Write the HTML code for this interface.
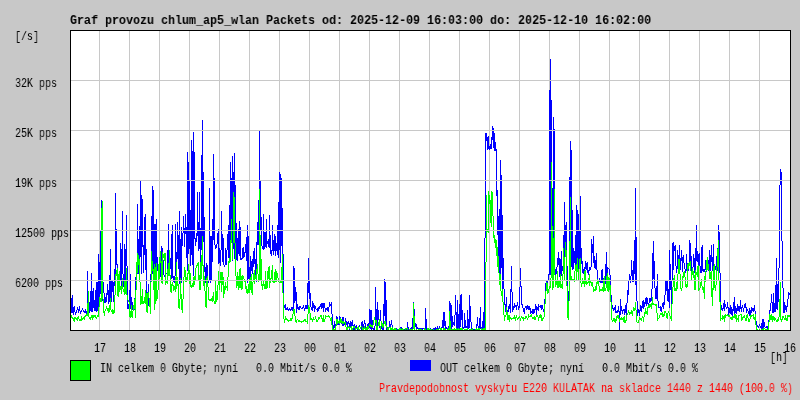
<!DOCTYPE html>
<html><head><meta charset="utf-8">
<style>
html,body{margin:0;padding:0;}
body{width:800px;height:400px;background:#c8c8c8;position:relative;overflow:hidden;font-family:"Liberation Mono",monospace;color:#000;}
.t{position:absolute;white-space:pre;font-size:13px;line-height:14px;transform:scaleX(0.769);transform-origin:0 0;will-change:transform;}
.title{position:absolute;left:70px;top:14px;font-size:13px;font-weight:bold;line-height:14px;white-space:pre;transform:scaleX(0.8974);transform-origin:0 0;will-change:transform;}
svg{position:absolute;left:0;top:0;}
</style></head><body>
<svg width="800" height="400" viewBox="0 0 800 400" shape-rendering="crispEdges">
<rect x="70" y="30" width="721" height="301" fill="#fff"/>
<g stroke="#c8c8c8" stroke-width="1">
<line x1="99.5" y1="31" x2="99.5" y2="330"/>
<line x1="129.5" y1="31" x2="129.5" y2="330"/>
<line x1="159.5" y1="31" x2="159.5" y2="330"/>
<line x1="189.5" y1="31" x2="189.5" y2="330"/>
<line x1="219.5" y1="31" x2="219.5" y2="330"/>
<line x1="249.5" y1="31" x2="249.5" y2="330"/>
<line x1="279.5" y1="31" x2="279.5" y2="330"/>
<line x1="309.5" y1="31" x2="309.5" y2="330"/>
<line x1="339.5" y1="31" x2="339.5" y2="330"/>
<line x1="369.5" y1="31" x2="369.5" y2="330"/>
<line x1="399.5" y1="31" x2="399.5" y2="330"/>
<line x1="429.5" y1="31" x2="429.5" y2="330"/>
<line x1="459.5" y1="31" x2="459.5" y2="330"/>
<line x1="489.5" y1="31" x2="489.5" y2="330"/>
<line x1="519.5" y1="31" x2="519.5" y2="330"/>
<line x1="549.5" y1="31" x2="549.5" y2="330"/>
<line x1="579.5" y1="31" x2="579.5" y2="330"/>
<line x1="609.5" y1="31" x2="609.5" y2="330"/>
<line x1="639.5" y1="31" x2="639.5" y2="330"/>
<line x1="669.5" y1="31" x2="669.5" y2="330"/>
<line x1="699.5" y1="31" x2="699.5" y2="330"/>
<line x1="729.5" y1="31" x2="729.5" y2="330"/>
<line x1="759.5" y1="31" x2="759.5" y2="330"/>
</g>
<path fill="#0000ff" d="M71 298h1v15h-1zM72 295h1v18h-1zM73 307h1v8h-1zM74 306h1v6h-1zM75 312h1v3h-1zM76 310h1v3h-1zM77 307h1v3h-1zM78 309h1v4h-1zM79 306h1v5h-1zM80 311h1v3h-1zM81 310h1v2h-1zM82 308h1v2h-1zM83 310h1v2h-1zM84 311h1v2h-1zM85 309h1v4h-1zM86 311h1v3h-1zM87 271h1v41h-1zM88 291h1v21h-1zM89 302h1v11h-1zM90 291h1v20h-1zM91 273h1v39h-1zM92 291h1v21h-1zM93 288h1v20h-1zM94 300h1v11h-1zM95 290h1v21h-1zM96 282h1v30h-1zM97 282h1v29h-1zM98 254h1v54h-1zM99 262h1v38h-1zM100 230h1v64h-1zM101 200h1v93h-1zM102 226h1v75h-1zM103 282h1v11h-1zM104 293h1v10h-1zM105 297h1v6h-1zM106 293h1v9h-1zM107 284h1v11h-1zM108 290h1v14h-1zM109 275h1v27h-1zM110 249h1v52h-1zM111 281h1v21h-1zM112 281h1v11h-1zM113 282h1v20h-1zM114 269h1v17h-1zM115 193h1v87h-1zM116 229h1v36h-1zM117 264h1v16h-1zM118 278h1v8h-1zM119 277h1v10h-1zM120 243h1v37h-1zM121 249h1v42h-1zM122 211h1v63h-1zM123 274h1v13h-1zM124 244h1v44h-1zM125 249h1v34h-1zM126 215h1v51h-1zM127 266h1v43h-1zM128 304h1v5h-1zM129 290h1v17h-1zM130 274h1v35h-1zM131 297h1v13h-1zM132 302h1v8h-1zM133 306h1v4h-1zM134 298h1v12h-1zM135 277h1v21h-1zM136 272h1v5h-1zM137 204h1v70h-1zM138 239h1v35h-1zM139 226h1v45h-1zM140 181h1v76h-1zM141 195h1v79h-1zM142 199h1v48h-1zM143 245h1v28h-1zM144 217h1v38h-1zM145 214h1v56h-1zM146 249h1v53h-1zM147 292h1v9h-1zM148 284h1v22h-1zM149 303h1v3h-1zM150 274h1v31h-1zM151 216h1v58h-1zM152 186h1v88h-1zM153 190h1v82h-1zM154 224h1v40h-1zM155 224h1v49h-1zM156 219h1v45h-1zM157 257h1v14h-1zM158 265h1v12h-1zM159 266h1v8h-1zM160 257h1v20h-1zM161 246h1v29h-1zM162 248h1v27h-1zM163 260h1v15h-1zM164 275h1v2h-1zM165 271h1v5h-1zM166 273h1v1h-1zM167 250h1v26h-1zM168 224h1v45h-1zM169 266h1v3h-1zM170 258h1v11h-1zM171 234h1v45h-1zM172 225h1v53h-1zM173 276h1v6h-1zM174 276h1v7h-1zM175 224h1v52h-1zM176 252h1v32h-1zM177 222h1v37h-1zM178 235h1v34h-1zM179 211h1v73h-1zM180 239h1v43h-1zM181 227h1v56h-1zM182 233h1v13h-1zM183 216h1v17h-1zM184 228h1v19h-1zM185 214h1v20h-1zM186 227h1v31h-1zM187 152h1v119h-1zM188 162h1v92h-1zM189 180h1v69h-1zM190 210h1v56h-1zM191 140h1v115h-1zM192 151h1v114h-1zM193 132h1v144h-1zM194 152h1v87h-1zM195 238h1v8h-1zM196 233h1v9h-1zM197 192h1v44h-1zM198 222h1v29h-1zM199 192h1v57h-1zM200 228h1v36h-1zM201 155h1v95h-1zM202 120h1v144h-1zM203 172h1v70h-1zM204 217h1v55h-1zM205 267h1v16h-1zM206 263h1v18h-1zM207 265h1v16h-1zM208 280h1v3h-1zM209 188h1v92h-1zM210 236h1v47h-1zM211 236h1v44h-1zM212 219h1v43h-1zM213 154h1v86h-1zM214 178h1v67h-1zM215 245h1v4h-1zM216 244h1v4h-1zM217 233h1v11h-1zM218 229h1v35h-1zM219 248h1v15h-1zM220 250h1v16h-1zM221 211h1v39h-1zM222 234h1v28h-1zM223 238h1v27h-1zM224 265h1v2h-1zM225 248h1v17h-1zM226 250h1v15h-1zM227 234h1v16h-1zM228 225h1v33h-1zM229 205h1v55h-1zM230 162h1v96h-1zM231 178h1v46h-1zM232 156h1v105h-1zM233 172h1v77h-1zM234 153h1v106h-1zM235 185h1v78h-1zM236 223h1v37h-1zM237 238h1v23h-1zM238 229h1v25h-1zM239 221h1v35h-1zM240 227h1v33h-1zM241 258h1v2h-1zM242 248h1v11h-1zM243 247h1v11h-1zM244 252h1v5h-1zM245 244h1v9h-1zM246 237h1v24h-1zM247 225h1v58h-1zM248 236h1v43h-1zM249 267h1v12h-1zM250 256h1v25h-1zM251 261h1v10h-1zM252 259h1v15h-1zM253 251h1v16h-1zM254 248h1v16h-1zM255 259h1v19h-1zM256 242h1v40h-1zM257 222h1v23h-1zM258 200h1v45h-1zM259 131h1v112h-1zM260 181h1v50h-1zM261 217h1v29h-1zM262 246h1v3h-1zM263 214h1v36h-1zM264 232h1v17h-1zM265 232h1v15h-1zM266 219h1v29h-1zM267 241h1v3h-1zM268 239h1v8h-1zM269 215h1v33h-1zM270 235h1v19h-1zM271 250h1v6h-1zM272 225h1v26h-1zM273 240h1v15h-1zM274 234h1v17h-1zM275 236h1v20h-1zM276 243h1v8h-1zM277 225h1v30h-1zM278 202h1v56h-1zM279 172h1v78h-1zM280 174h1v89h-1zM281 178h1v68h-1zM282 208h1v46h-1zM283 254h1v51h-1zM284 305h1v3h-1zM285 304h1v6h-1zM286 308h1v2h-1zM287 307h1v3h-1zM288 309h1v2h-1zM289 308h1v2h-1zM290 309h1v2h-1zM291 307h1v3h-1zM292 307h1v4h-1zM293 266h1v47h-1zM294 268h1v35h-1zM295 287h1v14h-1zM296 292h1v21h-1zM297 304h1v5h-1zM298 307h1v3h-1zM299 306h1v4h-1zM300 306h1v2h-1zM301 308h1v1h-1zM302 307h1v2h-1zM303 305h1v3h-1zM304 308h1v3h-1zM305 305h1v4h-1zM306 305h1v4h-1zM307 283h1v26h-1zM308 258h1v35h-1zM309 280h1v19h-1zM310 293h1v14h-1zM311 307h1v3h-1zM312 301h1v10h-1zM313 303h1v5h-1zM314 305h1v7h-1zM315 306h1v3h-1zM316 309h1v1h-1zM317 308h1v4h-1zM318 307h1v4h-1zM319 306h1v3h-1zM320 304h1v3h-1zM321 303h1v6h-1zM322 303h1v5h-1zM323 303h1v9h-1zM324 303h1v5h-1zM325 308h1v4h-1zM326 308h1v2h-1zM327 307h1v4h-1zM328 307h1v5h-1zM329 302h1v5h-1zM330 304h1v2h-1zM331 302h1v12h-1zM332 314h1v15h-1zM333 325h1v4h-1zM334 321h1v7h-1zM335 324h1v5h-1zM336 316h1v8h-1zM337 317h1v8h-1zM338 321h1v4h-1zM339 316h1v9h-1zM340 317h1v4h-1zM341 319h1v5h-1zM342 317h1v9h-1zM343 317h1v9h-1zM344 323h1v2h-1zM345 318h1v7h-1zM346 321h1v4h-1zM347 322h1v5h-1zM348 321h1v3h-1zM349 323h1v7h-1zM350 321h1v7h-1zM351 322h1v6h-1zM352 320h1v6h-1zM353 325h1v6h-1zM354 324h1v6h-1zM355 326h1v2h-1zM356 325h1v3h-1zM357 327h1v3h-1zM358 327h1v3h-1zM359 325h1v2h-1zM360 327h1v2h-1zM361 322h1v9h-1zM362 321h1v8h-1zM363 324h1v5h-1zM364 320h1v4h-1zM365 323h1v6h-1zM366 327h1v2h-1zM367 324h1v3h-1zM368 323h1v5h-1zM369 309h1v19h-1zM370 310h1v19h-1zM371 310h1v20h-1zM372 320h1v9h-1zM373 328h1v2h-1zM374 326h1v4h-1zM375 287h1v39h-1zM376 309h1v21h-1zM377 302h1v28h-1zM378 310h1v10h-1zM379 319h1v9h-1zM380 310h1v11h-1zM381 321h1v8h-1zM382 328h1v2h-1zM383 304h1v26h-1zM384 279h1v37h-1zM385 282h1v41h-1zM386 300h1v31h-1zM387 327h1v3h-1zM388 327h1v2h-1zM389 321h1v6h-1zM390 324h1v7h-1zM391 320h1v5h-1zM392 325h1v5h-1zM393 329h1v2h-1zM394 329h1v2h-1zM395 328h1v3h-1zM396 328h1v3h-1zM397 329h1v2h-1zM398 329h1v2h-1zM399 328h1v3h-1zM400 327h1v4h-1zM401 327h1v2h-1zM402 329h1v2h-1zM403 329h1v1h-1zM404 329h1v2h-1zM405 328h1v2h-1zM406 328h1v3h-1zM407 322h1v6h-1zM408 327h1v4h-1zM409 329h1v1h-1zM410 328h1v2h-1zM411 327h1v4h-1zM412 318h1v11h-1zM413 302h1v16h-1zM414 309h1v14h-1zM415 323h1v4h-1zM416 324h1v5h-1zM417 327h1v2h-1zM418 328h1v2h-1zM419 328h1v2h-1zM420 328h1v3h-1zM421 328h1v2h-1zM422 328h1v2h-1zM423 328h1v1h-1zM424 328h1v2h-1zM425 308h1v22h-1zM426 319h1v12h-1zM427 330h1v1h-1zM428 328h1v3h-1zM429 329h1v1h-1zM430 328h1v3h-1zM431 329h1v1h-1zM432 329h1v2h-1zM433 328h1v1h-1zM434 328h1v2h-1zM435 327h1v3h-1zM436 328h1v3h-1zM437 326h1v5h-1zM438 328h1v2h-1zM439 326h1v3h-1zM440 328h1v3h-1zM441 327h1v4h-1zM442 320h1v8h-1zM443 312h1v16h-1zM444 312h1v14h-1zM445 321h1v8h-1zM446 327h1v2h-1zM447 328h1v1h-1zM448 326h1v3h-1zM449 301h1v27h-1zM450 303h1v25h-1zM451 305h1v24h-1zM452 316h1v11h-1zM453 322h1v3h-1zM454 315h1v11h-1zM455 295h1v20h-1zM456 312h1v17h-1zM457 300h1v29h-1zM458 314h1v15h-1zM459 304h1v25h-1zM460 295h1v32h-1zM461 294h1v26h-1zM462 310h1v18h-1zM463 327h1v2h-1zM464 313h1v15h-1zM465 320h1v8h-1zM466 326h1v2h-1zM467 310h1v18h-1zM468 319h1v10h-1zM469 295h1v33h-1zM470 306h1v16h-1zM471 322h1v7h-1zM472 328h1v1h-1zM473 329h1v2h-1zM474 329h1v1h-1zM475 329h1v2h-1zM476 324h1v7h-1zM477 317h1v9h-1zM478 326h1v3h-1zM479 318h1v11h-1zM480 307h1v22h-1zM481 327h1v4h-1zM482 321h1v10h-1zM483 312h1v18h-1zM484 238h1v91h-1zM485 133h1v105h-1zM486 133h1v8h-1zM487 137h1v13h-1zM488 136h1v13h-1zM489 146h1v4h-1zM490 144h1v5h-1zM491 137h1v12h-1zM492 126h1v14h-1zM493 128h1v20h-1zM494 133h1v18h-1zM495 142h1v9h-1zM496 149h1v47h-1zM497 190h1v45h-1zM498 216h1v44h-1zM499 209h1v64h-1zM500 160h1v122h-1zM501 175h1v93h-1zM502 215h1v77h-1zM503 258h1v31h-1zM504 289h1v16h-1zM505 304h1v8h-1zM506 297h1v15h-1zM507 310h1v2h-1zM508 306h1v6h-1zM509 304h1v5h-1zM510 289h1v24h-1zM511 266h1v26h-1zM512 292h1v20h-1zM513 306h1v4h-1zM514 303h1v5h-1zM515 305h1v2h-1zM516 305h1v5h-1zM517 302h1v4h-1zM518 306h1v4h-1zM519 287h1v21h-1zM520 268h1v19h-1zM521 286h1v19h-1zM522 304h1v4h-1zM523 308h1v4h-1zM524 308h1v6h-1zM525 306h1v2h-1zM526 306h1v4h-1zM527 305h1v4h-1zM528 306h1v4h-1zM529 306h1v4h-1zM530 308h1v6h-1zM531 311h1v2h-1zM532 309h1v5h-1zM533 309h1v5h-1zM534 309h1v4h-1zM535 304h1v6h-1zM536 306h1v9h-1zM537 307h1v3h-1zM538 304h1v7h-1zM539 306h1v1h-1zM540 305h1v3h-1zM541 305h1v5h-1zM542 305h1v4h-1zM543 309h1v3h-1zM544 299h1v12h-1zM545 283h1v16h-1zM546 280h1v3h-1zM547 281h1v4h-1zM548 274h1v7h-1zM549 90h1v185h-1zM550 59h1v216h-1zM551 100h1v176h-1zM552 188h1v87h-1zM553 117h1v146h-1zM554 129h1v142h-1zM555 269h1v6h-1zM556 267h1v7h-1zM557 258h1v9h-1zM558 252h1v13h-1zM559 258h1v19h-1zM560 259h1v18h-1zM561 251h1v25h-1zM562 266h1v5h-1zM563 235h1v34h-1zM564 202h1v63h-1zM565 225h1v32h-1zM566 222h1v44h-1zM567 266h1v44h-1zM568 291h1v22h-1zM569 177h1v114h-1zM570 141h1v126h-1zM571 150h1v117h-1zM572 210h1v60h-1zM573 248h1v21h-1zM574 251h1v12h-1zM575 235h1v31h-1zM576 205h1v60h-1zM577 210h1v50h-1zM578 214h1v55h-1zM579 231h1v35h-1zM580 196h1v71h-1zM581 248h1v16h-1zM582 261h1v12h-1zM583 269h1v5h-1zM584 267h1v6h-1zM585 261h1v8h-1zM586 263h1v7h-1zM587 262h1v11h-1zM588 270h1v5h-1zM589 267h1v4h-1zM590 267h1v3h-1zM591 239h1v28h-1zM592 244h1v9h-1zM593 236h1v27h-1zM594 256h1v12h-1zM595 260h1v9h-1zM596 253h1v17h-1zM597 270h1v11h-1zM598 281h1v1h-1zM599 278h1v4h-1zM600 281h1v2h-1zM601 270h1v13h-1zM602 269h1v14h-1zM603 278h1v4h-1zM604 277h1v5h-1zM605 264h1v20h-1zM606 252h1v32h-1zM607 267h1v17h-1zM608 268h1v1h-1zM609 269h1v6h-1zM610 275h1v20h-1zM611 295h1v13h-1zM612 305h1v4h-1zM613 308h1v3h-1zM614 307h1v3h-1zM615 305h1v8h-1zM616 311h1v2h-1zM617 310h1v3h-1zM618 306h1v6h-1zM619 311h1v20h-1zM620 299h1v16h-1zM621 306h1v5h-1zM622 310h1v4h-1zM623 309h1v2h-1zM624 309h1v6h-1zM625 305h1v8h-1zM626 303h1v13h-1zM627 290h1v13h-1zM628 280h1v15h-1zM629 274h1v6h-1zM630 276h1v7h-1zM631 260h1v16h-1zM632 270h1v12h-1zM633 261h1v21h-1zM634 240h1v34h-1zM635 188h1v97h-1zM636 237h1v64h-1zM637 301h1v15h-1zM638 309h1v4h-1zM639 310h1v6h-1zM640 305h1v6h-1zM641 306h1v6h-1zM642 301h1v7h-1zM643 300h1v9h-1zM644 302h1v5h-1zM645 298h1v6h-1zM646 297h1v9h-1zM647 298h1v6h-1zM648 303h1v3h-1zM649 298h1v5h-1zM650 298h1v4h-1zM651 289h1v12h-1zM652 253h1v36h-1zM653 241h1v38h-1zM654 261h1v27h-1zM655 288h1v11h-1zM656 286h1v13h-1zM657 274h1v27h-1zM658 301h1v7h-1zM659 307h1v1h-1zM660 306h1v5h-1zM661 307h1v5h-1zM662 303h1v4h-1zM663 302h1v7h-1zM664 295h1v10h-1zM665 280h1v15h-1zM666 281h1v10h-1zM667 280h1v21h-1zM668 289h1v13h-1zM669 250h1v58h-1zM670 264h1v26h-1zM671 281h1v26h-1zM672 243h1v38h-1zM673 242h1v28h-1zM674 246h1v5h-1zM675 245h1v21h-1zM676 266h1v7h-1zM677 250h1v19h-1zM678 255h1v17h-1zM679 245h1v25h-1zM680 258h1v12h-1zM681 250h1v11h-1zM682 257h1v15h-1zM683 255h1v8h-1zM684 263h1v6h-1zM685 269h1v4h-1zM686 254h1v17h-1zM687 263h1v9h-1zM688 264h1v7h-1zM689 240h1v24h-1zM690 243h1v24h-1zM691 256h1v16h-1zM692 267h1v4h-1zM693 254h1v13h-1zM694 258h1v15h-1zM695 248h1v24h-1zM696 225h1v36h-1zM697 251h1v11h-1zM698 254h1v17h-1zM699 253h1v13h-1zM700 266h1v7h-1zM701 247h1v26h-1zM702 245h1v26h-1zM703 269h1v3h-1zM704 269h1v3h-1zM705 260h1v10h-1zM706 266h1v6h-1zM707 261h1v9h-1zM708 260h1v11h-1zM709 250h1v20h-1zM710 255h1v16h-1zM711 245h1v17h-1zM712 257h1v14h-1zM713 244h1v27h-1zM714 265h1v6h-1zM715 266h1v4h-1zM716 256h1v11h-1zM717 248h1v23h-1zM718 225h1v39h-1zM719 232h1v41h-1zM720 273h1v41h-1zM721 305h1v5h-1zM722 308h1v3h-1zM723 303h1v6h-1zM724 300h1v11h-1zM725 304h1v3h-1zM726 307h1v2h-1zM727 302h1v6h-1zM728 307h1v9h-1zM729 308h1v5h-1zM730 305h1v9h-1zM731 307h1v8h-1zM732 309h1v7h-1zM733 302h1v9h-1zM734 297h1v17h-1zM735 306h1v7h-1zM736 308h1v6h-1zM737 304h1v7h-1zM738 306h1v5h-1zM739 306h1v6h-1zM740 300h1v9h-1zM741 307h1v5h-1zM742 305h1v3h-1zM743 308h1v4h-1zM744 304h1v4h-1zM745 303h1v5h-1zM746 307h1v6h-1zM747 309h1v2h-1zM748 311h1v3h-1zM749 308h1v8h-1zM750 310h1v5h-1zM751 307h1v6h-1zM752 308h1v3h-1zM753 308h1v4h-1zM754 305h1v6h-1zM755 311h1v10h-1zM756 321h1v9h-1zM757 325h1v2h-1zM758 326h1v2h-1zM759 324h1v2h-1zM760 326h1v2h-1zM761 323h1v6h-1zM762 319h1v12h-1zM763 319h1v10h-1zM764 322h1v5h-1zM765 327h1v1h-1zM766 326h1v2h-1zM767 326h1v3h-1zM768 320h1v10h-1zM769 310h1v10h-1zM770 303h1v8h-1zM771 294h1v9h-1zM772 302h1v11h-1zM773 293h1v20h-1zM774 303h1v9h-1zM775 285h1v27h-1zM776 258h1v51h-1zM777 284h1v26h-1zM778 268h1v34h-1zM779 185h1v83h-1zM780 169h1v16h-1zM781 172h1v69h-1zM782 241h1v47h-1zM783 288h1v25h-1zM784 302h1v11h-1zM785 305h1v5h-1zM786 306h1v6h-1zM787 299h1v8h-1zM788 292h1v7h-1zM789 293h1v2h-1z"/>
<path fill="#00ff00" d="M71 315h1v3h-1zM72 317h1v2h-1zM73 318h1v3h-1zM74 317h1v5h-1zM75 317h1v2h-1zM76 318h1v2h-1zM77 317h1v4h-1zM78 316h1v3h-1zM79 319h1v2h-1zM80 319h1v2h-1zM81 316h1v5h-1zM82 318h1v2h-1zM83 317h1v2h-1zM84 316h1v4h-1zM85 315h1v2h-1zM86 314h1v2h-1zM87 303h1v13h-1zM88 291h1v26h-1zM89 317h1v2h-1zM90 317h1v3h-1zM91 315h1v3h-1zM92 315h1v5h-1zM93 315h1v3h-1zM94 315h1v2h-1zM95 315h1v3h-1zM96 317h1v2h-1zM97 315h1v2h-1zM98 307h1v10h-1zM99 297h1v10h-1zM100 298h1v4h-1zM101 208h1v94h-1zM102 201h1v98h-1zM103 299h1v14h-1zM104 311h1v5h-1zM105 309h1v2h-1zM106 306h1v3h-1zM107 308h1v3h-1zM108 308h1v5h-1zM109 305h1v7h-1zM110 298h1v12h-1zM111 310h1v2h-1zM112 309h1v5h-1zM113 310h1v4h-1zM114 295h1v18h-1zM115 274h1v21h-1zM116 270h1v6h-1zM117 268h1v28h-1zM118 274h1v23h-1zM119 271h1v21h-1zM120 286h1v4h-1zM121 286h1v8h-1zM122 278h1v11h-1zM123 289h1v3h-1zM124 280h1v15h-1zM125 281h1v13h-1zM126 268h1v27h-1zM127 295h1v5h-1zM128 300h1v2h-1zM129 302h1v15h-1zM130 311h1v7h-1zM131 305h1v12h-1zM132 311h1v7h-1zM133 305h1v6h-1zM134 299h1v10h-1zM135 290h1v28h-1zM136 262h1v28h-1zM137 253h1v20h-1zM138 255h1v10h-1zM139 259h1v23h-1zM140 282h1v23h-1zM141 296h1v8h-1zM142 289h1v15h-1zM143 301h1v3h-1zM144 297h1v6h-1zM145 290h1v14h-1zM146 293h1v19h-1zM147 293h1v20h-1zM148 292h1v6h-1zM149 298h1v9h-1zM150 282h1v32h-1zM151 251h1v31h-1zM152 261h1v10h-1zM153 269h1v21h-1zM154 264h1v46h-1zM155 267h1v37h-1zM156 263h1v38h-1zM157 290h1v9h-1zM158 264h1v26h-1zM159 257h1v22h-1zM160 251h1v12h-1zM161 261h1v22h-1zM162 252h1v32h-1zM163 254h1v4h-1zM164 253h1v8h-1zM165 253h1v32h-1zM166 281h1v2h-1zM167 269h1v15h-1zM168 263h1v13h-1zM169 250h1v26h-1zM170 275h1v17h-1zM171 284h1v9h-1zM172 282h1v4h-1zM173 285h1v6h-1zM174 286h1v4h-1zM175 277h1v15h-1zM176 262h1v27h-1zM177 277h1v9h-1zM178 284h1v24h-1zM179 299h1v10h-1zM180 278h1v21h-1zM181 294h1v16h-1zM182 299h1v14h-1zM183 277h1v22h-1zM184 267h1v10h-1zM185 270h1v12h-1zM186 277h1v5h-1zM187 273h1v8h-1zM188 264h1v10h-1zM189 270h1v14h-1zM190 273h1v14h-1zM191 285h1v3h-1zM192 283h1v4h-1zM193 277h1v10h-1zM194 276h1v9h-1zM195 268h1v12h-1zM196 265h1v3h-1zM197 263h1v3h-1zM198 262h1v19h-1zM199 275h1v15h-1zM200 262h1v28h-1zM201 255h1v24h-1zM202 236h1v30h-1zM203 265h1v21h-1zM204 276h1v15h-1zM205 291h1v16h-1zM206 278h1v30h-1zM207 276h1v11h-1zM208 287h1v13h-1zM209 299h1v2h-1zM210 299h1v2h-1zM211 298h1v3h-1zM212 296h1v6h-1zM213 292h1v9h-1zM214 301h1v3h-1zM215 281h1v23h-1zM216 291h1v11h-1zM217 285h1v15h-1zM218 271h1v14h-1zM219 281h1v9h-1zM220 272h1v11h-1zM221 272h1v20h-1zM222 272h1v13h-1zM223 277h1v21h-1zM224 286h1v8h-1zM225 282h1v8h-1zM226 286h1v2h-1zM227 277h1v14h-1zM228 261h1v16h-1zM229 258h1v5h-1zM230 240h1v22h-1zM231 219h1v24h-1zM232 243h1v17h-1zM233 192h1v51h-1zM234 197h1v46h-1zM235 243h1v33h-1zM236 276h1v12h-1zM237 272h1v14h-1zM238 276h1v14h-1zM239 269h1v19h-1zM240 268h1v20h-1zM241 276h1v14h-1zM242 275h1v14h-1zM243 276h1v3h-1zM244 279h1v3h-1zM245 280h1v9h-1zM246 286h1v7h-1zM247 289h1v5h-1zM248 284h1v9h-1zM249 279h1v14h-1zM250 277h1v13h-1zM251 274h1v19h-1zM252 282h1v13h-1zM253 273h1v9h-1zM254 270h1v14h-1zM255 275h1v4h-1zM256 269h1v11h-1zM257 264h1v10h-1zM258 274h1v8h-1zM259 189h1v92h-1zM260 235h1v46h-1zM261 259h1v27h-1zM262 284h1v6h-1zM263 280h1v6h-1zM264 284h1v5h-1zM265 271h1v18h-1zM266 280h1v9h-1zM267 271h1v17h-1zM268 267h1v12h-1zM269 266h1v22h-1zM270 278h1v5h-1zM271 270h1v9h-1zM272 265h1v17h-1zM273 280h1v3h-1zM274 272h1v11h-1zM275 269h1v13h-1zM276 271h1v11h-1zM277 273h1v5h-1zM278 278h1v4h-1zM279 282h1v1h-1zM280 280h1v3h-1zM281 267h1v16h-1zM282 254h1v39h-1zM283 293h1v26h-1zM284 319h1v4h-1zM285 316h1v4h-1zM286 318h1v2h-1zM287 319h1v2h-1zM288 320h1v2h-1zM289 320h1v1h-1zM290 318h1v3h-1zM291 318h1v3h-1zM292 314h1v5h-1zM293 309h1v5h-1zM294 309h1v7h-1zM295 316h1v6h-1zM296 320h1v3h-1zM297 319h1v1h-1zM298 320h1v2h-1zM299 320h1v2h-1zM300 321h1v1h-1zM301 321h1v2h-1zM302 321h1v1h-1zM303 320h1v2h-1zM304 319h1v2h-1zM305 319h1v3h-1zM306 321h1v1h-1zM307 314h1v10h-1zM308 305h1v9h-1zM309 307h1v6h-1zM310 313h1v7h-1zM311 318h1v2h-1zM312 319h1v3h-1zM313 317h1v3h-1zM314 319h1v1h-1zM315 316h1v3h-1zM316 319h1v3h-1zM317 320h1v2h-1zM318 317h1v3h-1zM319 317h1v2h-1zM320 315h1v2h-1zM321 315h1v4h-1zM322 318h1v4h-1zM323 315h1v7h-1zM324 319h1v3h-1zM325 315h1v4h-1zM326 316h1v1h-1zM327 316h1v1h-1zM328 315h1v2h-1zM329 316h1v2h-1zM330 318h1v3h-1zM331 317h1v8h-1zM332 325h1v6h-1zM333 329h1v1h-1zM334 329h1v2h-1zM335 326h1v5h-1zM336 319h1v7h-1zM337 319h1v5h-1zM338 321h1v2h-1zM339 320h1v4h-1zM340 318h1v5h-1zM341 319h1v4h-1zM342 321h1v3h-1zM343 321h1v3h-1zM344 322h1v1h-1zM345 322h1v5h-1zM346 327h1v4h-1zM347 327h1v4h-1zM348 326h1v2h-1zM349 327h1v2h-1zM350 327h1v1h-1zM351 326h1v4h-1zM352 328h1v3h-1zM353 326h1v2h-1zM354 326h1v2h-1zM355 328h1v3h-1zM356 328h1v1h-1zM357 327h1v2h-1zM358 326h1v4h-1zM359 329h1v2h-1zM360 327h1v2h-1zM361 326h1v1h-1zM362 327h1v3h-1zM363 328h1v3h-1zM364 326h1v3h-1zM365 328h1v2h-1zM366 327h1v4h-1zM367 326h1v5h-1zM368 326h1v3h-1zM369 324h1v2h-1zM370 324h1v3h-1zM371 325h1v2h-1zM372 325h1v3h-1zM373 320h1v5h-1zM374 317h1v3h-1zM375 320h1v3h-1zM376 320h1v10h-1zM377 326h1v5h-1zM378 322h1v4h-1zM379 319h1v7h-1zM380 326h1v5h-1zM381 321h1v5h-1zM382 323h1v5h-1zM383 324h1v3h-1zM384 321h1v3h-1zM385 321h1v5h-1zM386 325h1v3h-1zM387 328h1v3h-1zM388 327h1v4h-1zM389 327h1v1h-1zM390 327h1v4h-1zM391 328h1v2h-1zM392 327h1v3h-1zM393 329h1v1h-1zM394 328h1v2h-1zM395 328h1v2h-1zM396 329h1v1h-1zM397 330h1v1h-1zM398 329h1v2h-1zM399 328h1v2h-1zM400 328h1v2h-1zM401 329h1v2h-1zM402 328h1v3h-1zM403 329h1v2h-1zM404 330h1v1h-1zM405 328h1v3h-1zM406 328h1v1h-1zM407 328h1v2h-1zM408 330h1v1h-1zM409 329h1v2h-1zM410 329h1v1h-1zM411 329h1v1h-1zM412 329h1v2h-1zM413 303h1v26h-1zM414 316h1v15h-1zM415 330h1v1h-1zM416 329h1v2h-1zM417 330h1v1h-1zM418 329h1v2h-1zM419 329h1v1h-1zM420 329h1v1h-1zM421 329h1v2h-1zM422 330h1v1h-1zM423 330h1v1h-1zM424 328h1v3h-1zM425 329h1v1h-1zM426 330h1v1h-1zM427 328h1v2h-1zM428 328h1v2h-1zM429 329h1v2h-1zM430 329h1v1h-1zM431 329h1v1h-1zM432 330h1v1h-1zM433 329h1v2h-1zM434 330h1v1h-1zM435 330h1v1h-1zM436 329h1v2h-1zM437 329h1v2h-1zM438 329h1v2h-1zM439 328h1v1h-1zM440 328h1v2h-1zM441 328h1v2h-1zM442 330h1v1h-1zM443 328h1v3h-1zM444 328h1v2h-1zM445 329h1v1h-1zM446 330h1v1h-1zM447 329h1v2h-1zM448 328h1v3h-1zM449 311h1v20h-1zM450 321h1v10h-1zM451 329h1v2h-1zM452 329h1v1h-1zM453 329h1v2h-1zM454 328h1v3h-1zM455 329h1v2h-1zM456 328h1v2h-1zM457 329h1v2h-1zM458 328h1v3h-1zM459 329h1v2h-1zM460 328h1v2h-1zM461 328h1v3h-1zM462 328h1v2h-1zM463 330h1v1h-1zM464 329h1v2h-1zM465 329h1v2h-1zM466 329h1v2h-1zM467 328h1v3h-1zM468 330h1v1h-1zM469 329h1v2h-1zM470 329h1v2h-1zM471 329h1v2h-1zM472 328h1v3h-1zM473 330h1v1h-1zM474 330h1v1h-1zM475 329h1v1h-1zM476 328h1v2h-1zM477 329h1v1h-1zM478 328h1v3h-1zM479 328h1v3h-1zM480 330h1v1h-1zM481 328h1v3h-1zM482 329h1v2h-1zM483 328h1v2h-1zM484 328h1v3h-1zM485 262h1v68h-1zM486 195h1v67h-1zM487 229h1v3h-1zM488 191h1v42h-1zM489 195h1v9h-1zM490 200h1v23h-1zM491 191h1v36h-1zM492 192h1v24h-1zM493 216h1v22h-1zM494 235h1v8h-1zM495 239h1v9h-1zM496 240h1v16h-1zM497 247h1v20h-1zM498 256h1v17h-1zM499 273h1v12h-1zM500 274h1v17h-1zM501 291h1v5h-1zM502 289h1v13h-1zM503 302h1v13h-1zM504 315h1v6h-1zM505 315h1v2h-1zM506 307h1v8h-1zM507 312h1v8h-1zM508 315h1v5h-1zM509 315h1v7h-1zM510 317h1v2h-1zM511 318h1v2h-1zM512 318h1v1h-1zM513 317h1v2h-1zM514 315h1v4h-1zM515 317h1v4h-1zM516 315h1v3h-1zM517 318h1v2h-1zM518 317h1v2h-1zM519 316h1v2h-1zM520 318h1v3h-1zM521 316h1v2h-1zM522 317h1v2h-1zM523 317h1v4h-1zM524 318h1v1h-1zM525 316h1v3h-1zM526 316h1v2h-1zM527 318h1v2h-1zM528 314h1v4h-1zM529 316h1v1h-1zM530 315h1v2h-1zM531 314h1v3h-1zM532 317h1v2h-1zM533 317h1v2h-1zM534 316h1v4h-1zM535 317h1v3h-1zM536 315h1v2h-1zM537 315h1v2h-1zM538 317h1v4h-1zM539 315h1v3h-1zM540 314h1v4h-1zM541 315h1v6h-1zM542 318h1v3h-1zM543 317h1v2h-1zM544 304h1v13h-1zM545 291h1v13h-1zM546 282h1v9h-1zM547 283h1v11h-1zM548 289h1v4h-1zM549 286h1v3h-1zM550 278h1v10h-1zM551 162h1v116h-1zM552 226h1v64h-1zM553 238h1v50h-1zM554 189h1v86h-1zM555 275h1v12h-1zM556 280h1v5h-1zM557 271h1v17h-1zM558 280h1v8h-1zM559 280h1v7h-1zM560 274h1v14h-1zM561 284h1v4h-1zM562 274h1v15h-1zM563 248h1v26h-1zM564 257h1v23h-1zM565 242h1v15h-1zM566 250h1v36h-1zM567 286h1v32h-1zM568 301h1v19h-1zM569 241h1v60h-1zM570 197h1v84h-1zM571 276h1v4h-1zM572 279h1v2h-1zM573 279h1v2h-1zM574 271h1v11h-1zM575 265h1v6h-1zM576 264h1v16h-1zM577 258h1v14h-1zM578 269h1v12h-1zM579 259h1v10h-1zM580 258h1v25h-1zM581 283h1v4h-1zM582 278h1v6h-1zM583 280h1v4h-1zM584 271h1v16h-1zM585 270h1v14h-1zM586 281h1v4h-1zM587 282h1v2h-1zM588 278h1v5h-1zM589 274h1v12h-1zM590 280h1v3h-1zM591 282h1v4h-1zM592 282h1v5h-1zM593 287h1v5h-1zM594 289h1v2h-1zM595 286h1v5h-1zM596 282h1v8h-1zM597 279h1v5h-1zM598 281h1v5h-1zM599 286h1v6h-1zM600 289h1v2h-1zM601 289h1v2h-1zM602 287h1v4h-1zM603 279h1v13h-1zM604 276h1v15h-1zM605 288h1v3h-1zM606 276h1v12h-1zM607 273h1v18h-1zM608 277h1v15h-1zM609 278h1v12h-1zM610 285h1v17h-1zM611 302h1v18h-1zM612 320h1v2h-1zM613 318h1v3h-1zM614 318h1v4h-1zM615 319h1v4h-1zM616 316h1v5h-1zM617 315h1v3h-1zM618 315h1v4h-1zM619 318h1v4h-1zM620 318h1v2h-1zM621 317h1v3h-1zM622 318h1v2h-1zM623 317h1v5h-1zM624 316h1v7h-1zM625 320h1v3h-1zM626 315h1v6h-1zM627 313h1v2h-1zM628 310h1v3h-1zM629 312h1v3h-1zM630 312h1v2h-1zM631 310h1v4h-1zM632 311h1v5h-1zM633 307h1v4h-1zM634 308h1v3h-1zM635 302h1v8h-1zM636 310h1v12h-1zM637 322h1v1h-1zM638 320h1v3h-1zM639 317h1v3h-1zM640 318h1v2h-1zM641 318h1v3h-1zM642 316h1v2h-1zM643 317h1v5h-1zM644 312h1v5h-1zM645 308h1v6h-1zM646 311h1v3h-1zM647 307h1v8h-1zM648 305h1v3h-1zM649 304h1v4h-1zM650 304h1v3h-1zM651 303h1v6h-1zM652 297h1v8h-1zM653 303h1v2h-1zM654 304h1v1h-1zM655 304h1v2h-1zM656 304h1v9h-1zM657 313h1v8h-1zM658 318h1v1h-1zM659 315h1v3h-1zM660 313h1v2h-1zM661 313h1v2h-1zM662 312h1v5h-1zM663 314h1v3h-1zM664 311h1v5h-1zM665 311h1v2h-1zM666 313h1v5h-1zM667 313h1v6h-1zM668 311h1v2h-1zM669 313h1v3h-1zM670 316h1v3h-1zM671 304h1v17h-1zM672 287h1v17h-1zM673 278h1v9h-1zM674 275h1v16h-1zM675 288h1v3h-1zM676 282h1v9h-1zM677 274h1v15h-1zM678 259h1v15h-1zM679 259h1v15h-1zM680 274h1v15h-1zM681 288h1v3h-1zM682 276h1v12h-1zM683 272h1v6h-1zM684 271h1v6h-1zM685 277h1v10h-1zM686 284h1v4h-1zM687 264h1v23h-1zM688 263h1v6h-1zM689 262h1v4h-1zM690 261h1v10h-1zM691 271h1v10h-1zM692 268h1v7h-1zM693 271h1v7h-1zM694 275h1v15h-1zM695 270h1v20h-1zM696 272h1v3h-1zM697 266h1v11h-1zM698 265h1v26h-1zM699 288h1v2h-1zM700 282h1v6h-1zM701 279h1v7h-1zM702 286h1v4h-1zM703 287h1v6h-1zM704 276h1v23h-1zM705 271h1v11h-1zM706 260h1v11h-1zM707 257h1v13h-1zM708 264h1v6h-1zM709 270h1v9h-1zM710 272h1v7h-1zM711 271h1v26h-1zM712 288h1v18h-1zM713 266h1v24h-1zM714 264h1v24h-1zM715 285h1v6h-1zM716 267h1v18h-1zM717 249h1v18h-1zM718 240h1v40h-1zM719 280h1v22h-1zM720 302h1v19h-1zM721 318h1v1h-1zM722 315h1v5h-1zM723 316h1v3h-1zM724 315h1v7h-1zM725 314h1v4h-1zM726 315h1v1h-1zM727 314h1v2h-1zM728 315h1v2h-1zM729 315h1v2h-1zM730 317h1v2h-1zM731 317h1v3h-1zM732 316h1v4h-1zM733 316h1v2h-1zM734 314h1v4h-1zM735 314h1v5h-1zM736 315h1v7h-1zM737 318h1v2h-1zM738 315h1v7h-1zM739 315h1v1h-1zM740 314h1v1h-1zM741 314h1v7h-1zM742 317h1v3h-1zM743 316h1v2h-1zM744 315h1v3h-1zM745 318h1v3h-1zM746 315h1v6h-1zM747 314h1v4h-1zM748 318h1v4h-1zM749 319h1v3h-1zM750 315h1v4h-1zM751 315h1v2h-1zM752 315h1v1h-1zM753 314h1v5h-1zM754 317h1v3h-1zM755 314h1v11h-1zM756 325h1v5h-1zM757 329h1v2h-1zM758 330h1v1h-1zM759 329h1v2h-1zM760 330h1v1h-1zM761 329h1v2h-1zM762 329h1v2h-1zM763 328h1v2h-1zM764 328h1v1h-1zM765 329h1v1h-1zM766 329h1v2h-1zM767 329h1v1h-1zM768 322h1v9h-1zM769 314h1v8h-1zM770 315h1v5h-1zM771 314h1v6h-1zM772 316h1v6h-1zM773 316h1v4h-1zM774 317h1v4h-1zM775 318h1v2h-1zM776 320h1v2h-1zM777 319h1v3h-1zM778 317h1v4h-1zM779 299h1v18h-1zM780 282h1v38h-1zM781 319h1v3h-1zM782 316h1v4h-1zM783 316h1v2h-1zM784 318h1v2h-1zM785 315h1v5h-1zM786 318h1v3h-1zM787 315h1v6h-1zM788 315h1v2h-1zM789 315h1v2h-1z"/>
<g stroke="#c8c8c8" stroke-width="1">
<line x1="71" y1="80.5" x2="790" y2="80.5"/>
<line x1="71" y1="130.5" x2="790" y2="130.5"/>
<line x1="71" y1="180.5" x2="790" y2="180.5"/>
<line x1="71" y1="230.5" x2="790" y2="230.5"/>
<line x1="71" y1="280.5" x2="790" y2="280.5"/>
</g>
<rect x="70.5" y="30.5" width="720" height="300" fill="none" stroke="#000" stroke-width="1"/>
<rect x="70.5" y="360.5" width="20" height="20" fill="#00ff00" stroke="#000"/>
<rect x="410" y="360" width="21" height="11" fill="#0000ff"/>
</svg>
<div class="title">Graf provozu chlum_ap5_wlan Packets od: 2025-12-09 16:03:00 do: 2025-12-10 16:02:00</div>
<div class="t" style="left:14.5px;top:30px">[/s]</div>
<div class="t" style="left:14.5px;top:77px">32K pps</div>
<div class="t" style="left:14.5px;top:127px">25K pps</div>
<div class="t" style="left:14.5px;top:177px">19K pps</div>
<div class="t" style="left:14.5px;top:227px">12500 pps</div>
<div class="t" style="left:14.5px;top:277px">6200 pps</div>
<div class="t" style="left:93.5px;top:342px">17</div>
<div class="t" style="left:123.5px;top:342px">18</div>
<div class="t" style="left:153.5px;top:342px">19</div>
<div class="t" style="left:183.5px;top:342px">20</div>
<div class="t" style="left:213.5px;top:342px">21</div>
<div class="t" style="left:243.5px;top:342px">22</div>
<div class="t" style="left:273.5px;top:342px">23</div>
<div class="t" style="left:303.5px;top:342px">00</div>
<div class="t" style="left:333.5px;top:342px">01</div>
<div class="t" style="left:363.5px;top:342px">02</div>
<div class="t" style="left:393.5px;top:342px">03</div>
<div class="t" style="left:423.5px;top:342px">04</div>
<div class="t" style="left:453.5px;top:342px">05</div>
<div class="t" style="left:483.5px;top:342px">06</div>
<div class="t" style="left:513.5px;top:342px">07</div>
<div class="t" style="left:543.5px;top:342px">08</div>
<div class="t" style="left:573.5px;top:342px">09</div>
<div class="t" style="left:603.5px;top:342px">10</div>
<div class="t" style="left:633.5px;top:342px">11</div>
<div class="t" style="left:663.5px;top:342px">12</div>
<div class="t" style="left:693.5px;top:342px">13</div>
<div class="t" style="left:723.5px;top:342px">14</div>
<div class="t" style="left:753.5px;top:342px">15</div>
<div class="t" style="left:783.5px;top:342px">16</div>
<div class="t" style="left:770px;top:351px">[h]</div>
<div class="t" style="left:100px;top:362px">IN celkem 0 Gbyte; nyní   0.0 Mbit/s 0.0 %</div>
<div class="t" style="left:440px;top:362px">OUT celkem 0 Gbyte; nyní   0.0 Mbit/s 0.0 %</div>
<div class="t" style="left:379px;top:382px;color:#ff0000">Pravdepodobnost vyskytu E220 KULATAK na skladce 1440 z 1440 (100.0 %)</div>
</body></html>
